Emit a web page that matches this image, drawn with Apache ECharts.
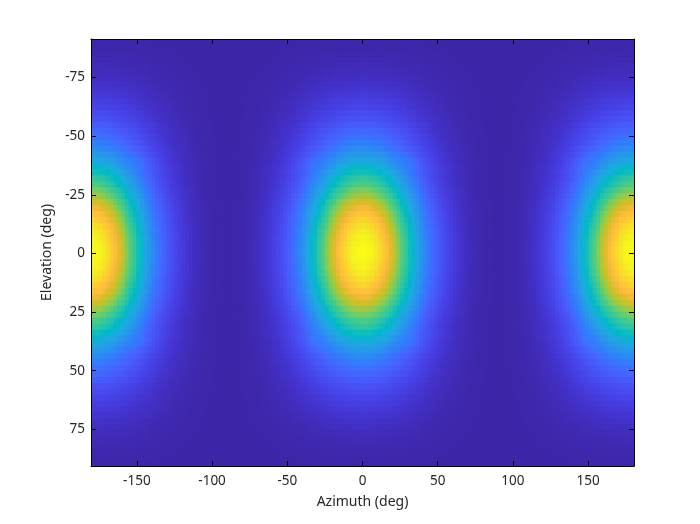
<!DOCTYPE html>
<html>
<head>
<meta charset="utf-8">
<style>html,body{margin:0;padding:0;background:#fff}#c{width:700px;height:524px}</style>
<script src="https://cdn.jsdelivr.net/npm/echarts@6/dist/echarts.min.js"></script>
</head>
<body>
<div id="c"></div>
<script>
// Tick labels
const xTicks = [-150, -100, -50, 0, 50, 100, 150];
const yTicks = [-75, -50, -25, 0, 25, 50, 75];

const xLimits = [-180.5, 180.5];
const yLimits = [-91.4, 90.6];
const columnCount = 144;
const rowCount = 72;
const azStep = (xLimits[1] - xLimits[0]) / columnCount;
const elStep = (yLimits[1] - yLimits[0]) / rowCount;

// Colour read off the picture as level (%), one quadrant:
// rows go outward from el = 0, columns outward from az = 0 up to az = 90.
// The picture repeats by mirror about el = 0, az = 0 and az = +-90, so this quadrant
// is reused for the others. Trailing zeros in a row are omitted.
const level = [
[100,99,98,95,92,88,84,79,74,67,61,56,50,45,39,34,29,25,22,18.5,15.5,13,11,9,7.3,5.8,4.5,3.4,2.5,1.8,1.2,.7,.4,.2,.1],
[99,98,97,94,91,87,83,78,73,66,61,56,50,44,39,33,29,25,21,18.4,15.4,12.9,10.9,8.9,7.2,5.8,4.5,3.4,2.5,1.8,1.2,.7,.4,.2,.1],
[98,97,95,93,89,86,82,77,72,66,60,55,49,44,38,33,28,24,21,18.1,15.2,12.7,10.8,8.8,7.1,5.7,4.4,3.3,2.4,1.8,1.2,.7,.4,.2,.1],
[96,95,94,91,88,84,80,75,71,64,59,54,48,43,37,32,28,24,20.6,17.8,14.9,12.5,10.6,8.6,7,5.6,4.3,3.3,2.4,1.7,1.2,.7,.4,.2,.1],
[93,92,91,88,85,82,78,73,68,62,57,52,47,41,36,31,27,23,20,17.2,14.4,12.1,10.2,8.4,6.8,5.4,4.2,3.2,2.3,1.7,1.1,.7,.4,.2,.1],
[90,89,87,85,82,79,75,70,66,60,55,50,45,40,35,30,26,22,19.2,16.6,13.9,11.6,9.8,8.1,6.5,5.2,4,3,2.2,1.6,1.1,.6,.4,.2,.1],
[86,85,84,82,79,76,72,68,63,58,52,48,43,38,34,29,25,21.5,18.5,15.9,13.3,11.2,9.5,7.7,6.3,5,3.9,2.9,2.2,1.5,1,.6,.3,.2,.1],
[82,81,79,77,75,72,68,64,60,55,50,46,41,36,32,27,24,20.4,17.5,15.1,12.6,10.6,9,7.3,5.9,4.7,3.7,2.8,2,1.5,1,.6,.3,.2,.1],
[77,76,75,73,70,68,64,60,57,52,47,43,39,34,30,26,22,19.3,16.6,14.2,11.9,10,8.5,6.9,5.6,4.5,3.5,2.6,1.9,1.4,.9,.5,.3,.2,.1],
[71,70,69,67,65,62,59,56,52,48,43,40,36,32,28,24,20.6,17.8,15.3,13.1,11,9.2,7.8,6.4,5.2,4.1,3.2,2.4,1.8,1.3,.9,.5,.3,.1,.1],
[66,65,64,63,60,58,55,52,49,44,40,37,33,29,26,22,19.1,16.5,14.2,12.2,10.2,8.6,7.3,5.9,4.8,3.8,3,2.2,1.7,1.2,.8,.5,.3,.1,.1],
[60,60,59,57,55,53,50,47,44,40,37,34,30,27,24,20.2,17.5,15.1,13,11.2,9.3,7.8,6.6,5.4,4.4,3.5,2.7,2.1,1.5,1.1,.7,.4,.2,.1,.1],
[56,55,54,53,51,49,46,44,41,37,34,31,28,25,22,18.6,16.1,13.9,11.9,10.3,8.6,7.2,6.1,5,4.1,3.2,2.5,1.9,1.4,1,.7,.4,.2,.1,.1],
[50,50,49,48,46,44,42,39,37,34,31,28,26,23,20.5,17.5,15.5,13.5,11.8,10,8.5,7.2,6,5,4,3.2,2.5,1.9,1.4,1,.7,.4,.2,.1,.1],
[45,45,44,43,41,40,38,35,33,30,28,26,25,23,20,17.3,15,12.9,11.1,9.6,8,6.7,5.7,4.7,3.8,3,2.3,1.8,1.3,.9,.6,.4,.2,.1,.1],
[39,39,38,37,36,35,33,31,29,27.6,26,24.6,22.6,21,18.4,15.8,13.7,11.8,10.1,8.7,7.3,6.1,5.2,4.2,3.4,2.7,2.1,1.6,1.2,.8,.6,.3,.2,.1,.1],
[35,35,34,33,32,31,29,27.5,26,24.5,22.6,21,19.3,17.6,15.6,13.8,12.2,10.6,9.3,8,6.8,5.6,4.8,3.9,3.1,2.5,2,1.5,1.1,.8,.5,.3,.2,.1,.1],
[30,30,29,28.5,27.5,26.4,25,23.6,22.5,21,19.5,18.2,16.7,15.2,13.5,12,10.7,9.4,8.2,7.1,6,5,4.2,3.5,2.8,2.2,1.8,1.3,1,.7,.5,.3,.2,.1,.1],
[26.5,26.2,25.8,25.2,24.2,23.3,22.2,21,20,18.6,17.3,16,14.7,13.4,12,10.7,9.5,8.3,7.3,6.3,5.3,4.5,3.8,3.1,2.5,2,1.6,1.2,.9,.6,.4,.3,.2,.1,.1],
[23,22.8,22.4,21.9,21.2,20.4,19.5,18.6,17.6,16.5,15.3,14.3,13.2,12,10.8,9.6,8.5,7.5,6.5,5.6,4.8,4,3.4,2.8,2.3,1.8,1.4,1.1,.8,.6,.4,.2,.1,.1,.1],
[20.2,20,19.7,19.3,18.7,18,17.2,16.4,15.6,14.6,13.6,12.7,11.7,10.7,9.6,8.6,7.6,6.7,5.8,5,4.3,3.6,3,2.5,2,1.6,1.3,1,.7,.5,.3,.2,.1,.1],
[17.3,17.2,17,16.6,16.1,15.6,14.9,14.2,13.5,12.7,11.8,11,10.1,9.3,8.4,7.5,6.7,5.9,5.1,4.4,3.8,3.2,2.7,2.2,1.8,1.4,1.1,.9,.6,.4,.3,.2,.1,.1],
[14.5,14.4,14.2,13.9,13.5,13.1,12.6,12,11.4,10.7,10,9.3,8.6,7.9,7.1,6.4,5.7,5,4.4,3.8,3.2,2.7,2.3,1.9,1.5,1.2,1,.7,.5,.4,.3,.2,.1,.1],
[12.5,12.4,12.2,12,11.7,11.3,10.9,10.4,9.9,9.3,8.7,8.1,7.5,6.9,6.2,5.6,5,4.4,3.8,3.3,2.8,2.4,2,1.7,1.4,1.1,.8,.6,.5,.3,.2,.1,.1,.1],
[10.6,10.5,10.4,10.2,9.9,9.6,9.3,8.9,8.4,7.9,7.4,6.9,6.4,5.9,5.3,4.8,4.3,3.8,3.3,2.8,2.4,2,1.7,1.4,1.2,.9,.7,.5,.4,.3,.2,.1,.1],
[9,8.9,8.8,8.7,8.5,8.2,7.9,7.6,7.2,6.8,6.3,5.9,5.5,5,4.6,4.1,3.7,3.2,2.8,2.4,2.1,1.8,1.5,1.2,1,.8,.6,.5,.3,.2,.2,.1,.1],
[7.3,7.2,7.1,7,6.9,6.7,6.4,6.2,5.9,5.5,5.2,4.8,4.5,4.1,3.7,3.4,3,2.7,2.3,2,1.7,1.5,1.2,1,.8,.7,.5,.4,.3,.2,.1,.1,.1],
[5.9,5.8,5.8,5.7,5.6,5.4,5.2,5,4.8,4.5,4.2,3.9,3.6,3.3,3,2.8,2.5,2.2,1.9,1.6,1.4,1.2,1,.8,.7,.5,.4,.3,.2,.2,.1,.1],
[4.6,4.6,4.5,4.4,4.3,4.2,4.1,3.9,3.7,3.5,3.3,3.1,2.8,2.6,2.4,2.2,1.9,1.7,1.5,1.3,1.1,.9,.8,.6,.5,.4,.3,.3,.2,.1,.1,.1],
[3.6,3.6,3.5,3.5,3.4,3.3,3.2,3,2.9,2.8,2.6,2.4,2.2,2,1.9,1.7,1.5,1.3,1.2,1,.9,.7,.6,.5,.4,.3,.3,.2,.1,.1,.1],
[2.7,2.7,2.6,2.6,2.5,2.5,2.4,2.3,2.2,2.1,1.9,1.8,1.7,1.5,1.4,1.3,1.1,1,.9,.8,.7,.6,.5,.4,.3,.2,.2,.1,.1,.1],
[2,2,2,1.9,1.9,1.8,1.8,1.7,1.6,1.5,1.4,1.3,1.2,1.1,1,.9,.8,.7,.6,.6,.5,.4,.3,.3,.2,.2,.1,.1,.1],
[1.4,1.4,1.4,1.3,1.3,1.3,1.2,1.2,1.1,1.1,1,.9,.9,.8,.7,.6,.6,.5,.4,.4,.3,.3,.2,.2,.1,.1,.1,.1],
[.9,.9,.9,.9,.8,.8,.8,.8,.7,.7,.6,.6,.5,.5,.4,.4,.4,.3,.3,.2,.2,.2,.1,.1,.1,.1],
[.5,.5,.5,.5,.5,.5,.4,.4,.4,.4,.3,.3,.3,.3,.2,.2,.2,.2,.1,.1,.1,.1,.1],
[.3,.3,.3,.3,.3,.3,.3,.2,.2,.2,.2,.2,.2,.1,.1,.1,.1,.1,.1]
];

const parula = [[.2422,.1504,.6603],[.2504,.165,.7076],[.2578,.1818,.7511],[.2647,.1978,.7952],[.2706,.2147,.8364],[.2751,.2342,.871],[.2783,.2559,.8991],[.2803,.2782,.9221],[.2813,.3006,.9414],[.281,.3228,.9579],[.2795,.3447,.9717],[.276,.3667,.9829],[.2699,.3892,.9906],[.2602,.4123,.9952],[.244,.4358,.9988],[.2206,.4603,.9973],[.1963,.4847,.9892],[.1834,.5074,.9798],[.1786,.5289,.9682],[.1764,.5499,.952],[.1687,.5703,.9359],[.154,.5902,.9218],[.146,.6091,.9079],[.138,.6276,.8973],[.1248,.6459,.8883],[.1113,.6635,.8763],[.0952,.6798,.8598],[.0689,.6948,.8394],[.0297,.7082,.8163],[.0036,.7203,.7917],[.0067,.7312,.766],[.0433,.7411,.7394],[.0964,.75,.712],[.1408,.7584,.6842],[.1717,.767,.6554],[.1938,.7758,.6251],[.2161,.7843,.5923],[.247,.7918,.5567],[.2906,.7973,.5188],[.3406,.8008,.4789],[.3909,.8029,.4354],[.4456,.8024,.3909],[.5044,.7993,.348],[.5616,.7942,.3045],[.6174,.7876,.2612],[.672,.7793,.2227],[.7242,.7698,.191],[.7738,.7598,.1646],[.8203,.7498,.1535],[.8634,.7406,.1596],[.9035,.733,.1774],[.9393,.7288,.21],[.9728,.7298,.2394],[.9956,.7434,.2371],[.997,.7659,.2199],[.9952,.7893,.2028],[.9892,.8136,.1885],[.9786,.8386,.1766],[.9676,.8639,.1643],[.961,.889,.1537],[.9597,.9135,.1423],[.9628,.9373,.1265],[.9691,.9606,.1064],[.9769,.9839,.0805]]
  .map(c => 'rgb(' + c.map(v => Math.round(v * 255)).join(',') + ')');

const cells = [];
for (let i = 0; i < rowCount; i++) {
  const row = level[i < rowCount / 2 ? rowCount / 2 - 1 - i : i - rowCount / 2];
  const el = yLimits[0] + (i + 0.5) * elStep;
  for (let j = 0; j < columnCount; j++) {
    const k = j % (columnCount / 2);
    const col = k < columnCount / 4 ? k : columnCount / 2 - 1 - k;
    const az = xLimits[0] + (j + 0.5) * azStep;
    const v = row[col];
    cells.push([az, el, v === undefined ? 0 : v]);
  }
}

function drawCell(params, api) {
  const c = api.coord([api.value(0), api.value(1)]);
  const s = api.size([azStep, elStep]);
  // Each cell runs under its right and lower neighbours so no seams appear.
  return {
    type: 'rect',
    shape: { x: c[0] - s[0] / 2, y: c[1] - s[1] / 2, width: s[0] + 1.2, height: s[1] + 1.2 },
    style: { fill: api.visual('color') }
  };
}

const ink = '#262626';
const frame = { show: true, onZero: false, lineStyle: { color: '#000', width: 1 } };
const tick = vals => ({ show: true, inside: true, length: 5, customValues: vals, lineStyle: { color: '#000', width: 1 } });
const label = (vals, margin) => ({ show: true, customValues: vals, color: ink, fontFamily: 'Noto Sans', fontSize: 13.5, margin: margin });
const hiddenLabel = { show: false };
const nameStyle = { color: ink, fontFamily: 'Noto Sans', fontSize: 14 };

const chart = echarts.init(document.getElementById('c'), null, { renderer: 'canvas' });
chart.setOption({
  animation: false,
  backgroundColor: '#fff',
  grid: { left: 91, top: 39, width: 543, height: 427, containLabel: false },
  xAxis: [
    { type: 'value', position: 'bottom', min: xLimits[0], max: xLimits[1], z: 10, axisLine: frame, axisTick: tick(xTicks),
      axisLabel: label(xTicks, 8), splitLine: { show: false },
      name: 'Azimuth (deg)', nameLocation: 'middle', nameGap: 29, nameTextStyle: nameStyle },
    { type: 'value', position: 'top', min: xLimits[0], max: xLimits[1], z: 10, axisLine: frame, axisTick: tick(xTicks),
      axisLabel: hiddenLabel, splitLine: { show: false } }
  ],
  yAxis: [
    { type: 'value', position: 'left', inverse: true, min: yLimits[0], max: yLimits[1], z: 10, axisLine: frame, axisTick: tick(yTicks),
      axisLabel: label(yTicks, 6), splitLine: { show: false },
      name: 'Elevation (deg)', nameLocation: 'middle', nameGap: 36, nameRotate: 90, nameTextStyle: nameStyle },
    { type: 'value', position: 'right', inverse: true, min: yLimits[0], max: yLimits[1], z: 10, axisLine: frame, axisTick: tick(yTicks),
      axisLabel: hiddenLabel, splitLine: { show: false } }
  ],
  visualMap: { show: false, min: 0, max: 100, dimension: 2, seriesIndex: 0, inRange: { color: parula } },
  series: [{ type: 'custom', xAxisIndex: 0, yAxisIndex: 0, data: cells, renderItem: drawCell, clip: true,
    encode: { x: 0, y: 1 }, progressive: 0, silent: true }]
});
</script>
</body>
</html>
